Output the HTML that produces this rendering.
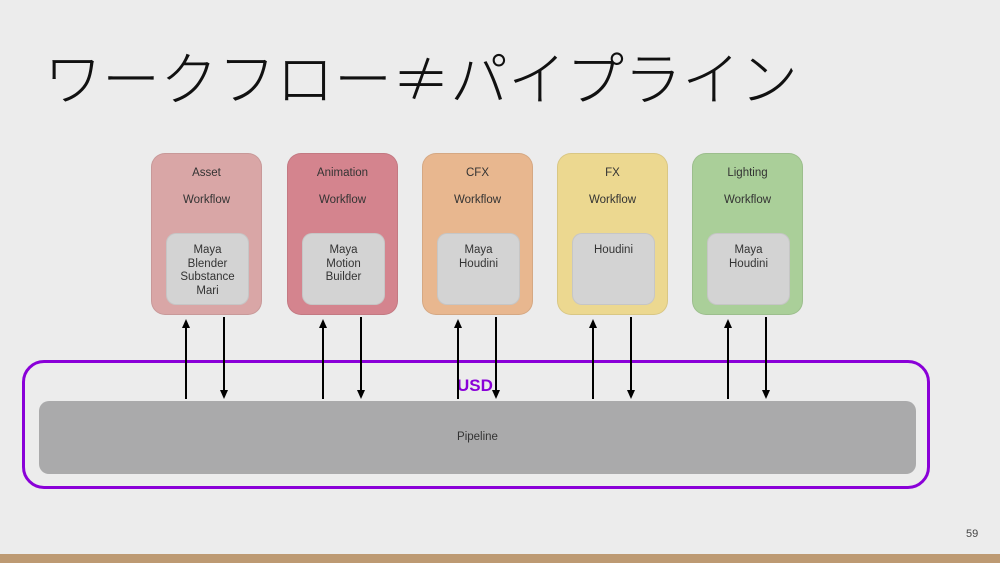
<!DOCTYPE html>
<html><head><meta charset="utf-8"><style>
*{margin:0;padding:0;box-sizing:border-box}
body{width:1000px;height:563px;background:#ececec;position:relative;overflow:hidden;font-family:"Liberation Sans","DejaVu Sans",sans-serif}
.t{position:absolute;left:44px;top:36px;font-family:"Noto Sans CJK JP",sans-serif;font-weight:300;font-size:58px;line-height:78px;color:#111;white-space:nowrap;letter-spacing:0px}
.b{position:absolute;top:153px;width:111px;height:162px;border-radius:14px;border:1px solid rgba(0,0,0,0.08);text-align:center;font-size:11.5px;color:#333}
.b .h{position:absolute;top:13px;left:0;right:0}
.b .w{position:absolute;top:40px;left:0;right:0}
.b .i{position:absolute;left:14px;top:79px;width:83px;height:72px;border-radius:10px;background:#d3d3d3;border:1px solid rgba(0,0,0,0.06);padding-top:10px;line-height:13.5px}
.usd{position:absolute;left:22px;top:360px;width:908px;height:129px;border:3px solid #8a00d8;border-radius:22px}
.pipe{position:absolute;left:39px;top:401px;width:877px;height:73px;background:#aaaaab;border-radius:10px;text-align:center;line-height:73px;font-size:11.5px;color:#333}
.lbl{position:absolute;left:457px;top:376px;font-weight:bold;color:#8a00d8;font-size:17px}
.bar{position:absolute;left:0;top:554px;width:1000px;height:9px;background:#bd9a73}
.n{position:absolute;left:966px;top:528px;font-size:11px;color:#444}
</style></head><body>
<div class="t">ワークフロー≠パイプライン</div>
<div class="b" style="left:151px;background:#d9a6a6"><div class="h">Asset</div><div class="w">Workflow</div><div class="i">Maya<br>Blender<br>Substance<br>Mari</div></div>
<div class="b" style="left:287px;background:#d4848e"><div class="h">Animation</div><div class="w">Workflow</div><div class="i">Maya<br>Motion<br>Builder</div></div>
<div class="b" style="left:422px;background:#e8b78f"><div class="h">CFX</div><div class="w">Workflow</div><div class="i">Maya<br>Houdini</div></div>
<div class="b" style="left:557px;background:#ecd890"><div class="h">FX</div><div class="w">Workflow</div><div class="i">Houdini</div></div>
<div class="b" style="left:692px;background:#aacf99"><div class="h">Lighting</div><div class="w">Workflow</div><div class="i">Maya<br>Houdini</div></div>
<div class="usd"></div>
<div class="pipe">Pipeline</div>
<div class="lbl">USD</div>
<svg width="1000" height="563" style="position:absolute;left:0;top:0">
<defs>
<marker id="a" markerUnits="userSpaceOnUse" markerWidth="9" markerHeight="9" refX="1" refY="4.5" orient="auto"><path d="M0,0.5 L9,4.5 L0,8.5 z" fill="#000"/></marker>
</defs>
<g stroke="#000" stroke-width="2" fill="none">
<line x1="186" y1="399" x2="186" y2="327" marker-end="url(#a)"/>
<line x1="224" y1="317" x2="224" y2="391" marker-end="url(#a)"/>
<line x1="323" y1="399" x2="323" y2="327" marker-end="url(#a)"/>
<line x1="361" y1="317" x2="361" y2="391" marker-end="url(#a)"/>
<line x1="458" y1="399" x2="458" y2="327" marker-end="url(#a)"/>
<line x1="496" y1="317" x2="496" y2="391" marker-end="url(#a)"/>
<line x1="593" y1="399" x2="593" y2="327" marker-end="url(#a)"/>
<line x1="631" y1="317" x2="631" y2="391" marker-end="url(#a)"/>
<line x1="728" y1="399" x2="728" y2="327" marker-end="url(#a)"/>
<line x1="766" y1="317" x2="766" y2="391" marker-end="url(#a)"/>
</g>
</svg>
<div class="n">59</div>
<div class="bar"></div>
</body></html>
